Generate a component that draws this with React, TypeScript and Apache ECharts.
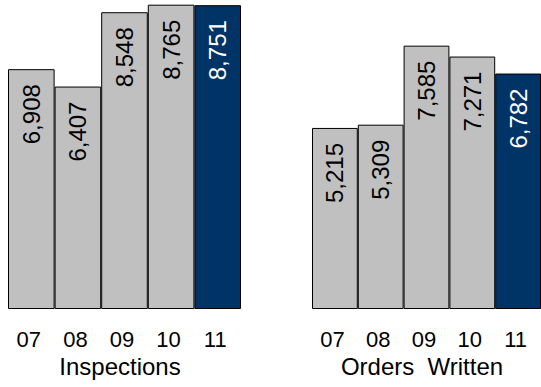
import React, { useEffect, useRef } from "react";
import * as echarts from "echarts";

const categories = ["07", "08", "09", "10", "11"];
const inspections = [6908, 6407, 8548, 8765, 8751];
const ordersWritten = [5215, 5309, 7585, 7271, 6782];
const chartNames = ["Inspections", "Orders  Written"];

const GRAY = "#C0C0C0";
const NAVY = "#003366";
const FONT = "'Liberation Sans', Arial, Helvetica, sans-serif";

function buildData(values: number[]) {
  return values.map((v, i) => {
    const hi = i === values.length - 1;
    return {
      value: v,
      itemStyle: { color: hi ? NAVY : GRAY },
      label: { color: hi ? "#ffffff" : "#000000" },
    };
  });
}

export default function App() {
  const ref = useRef<HTMLDivElement>(null);
  useEffect(() => {
    if (!ref.current) return;
    const chart = echarts.init(ref.current, undefined, { renderer: "svg" });
    const grids = [
      { left: 8, width: 233, top: 0, height: 309 },
      { left: 312, width: 232.5, top: 0, height: 309 },
    ];
    const seriesVals = [inspections, ordersWritten];
    chart.setOption({
      animation: false,
      backgroundColor: "#ffffff",
      textStyle: { fontFamily: FONT },
      grid: grids,
      xAxis: grids.map((_, gi) => ({
        type: "category",
        gridIndex: gi,
        data: categories,
        axisLine: { show: false },
        axisTick: { show: false },
        axisLabel: {
          fontSize: 22,
          color: "#000000",
          fontFamily: FONT,
          margin: 19,
          padding: [0, 5, 0, 0],
        },
        name: chartNames[gi],
        nameLocation: "middle",
        nameGap: 44,
        nameTextStyle: {
          fontSize: 24,
          color: "#000000",
          fontFamily: FONT,
          padding: [0, 9, 0, 0],
        },
      })),
      yAxis: grids.map((_, gi) => ({
        type: "value",
        gridIndex: gi,
        min: 0,
        max: 8900,
        show: false,
        splitLine: { show: false },
      })),
      series: seriesVals.map((vals, gi) => ({
        type: "bar",
        xAxisIndex: gi,
        yAxisIndex: gi,
        barCategoryGap: "0%",
        data: buildData(vals),
        itemStyle: { borderColor: "#000000", borderWidth: 1 },
        label: {
          show: true,
          position: "insideTop",
          distance: 15,
          rotate: 90,
          align: "right",
          verticalAlign: "middle",
          fontSize: 24,
          fontFamily: FONT,
          formatter: (p: any) => Number(p.value).toLocaleString("en-US"),
        },
      })),
    });
    return () => chart.dispose();
  }, []);
  return (
    <div
      ref={ref}
      style={{ position: "absolute", left: 0, top: 0, width: 541, height: 387 }}
    />
  );
}
